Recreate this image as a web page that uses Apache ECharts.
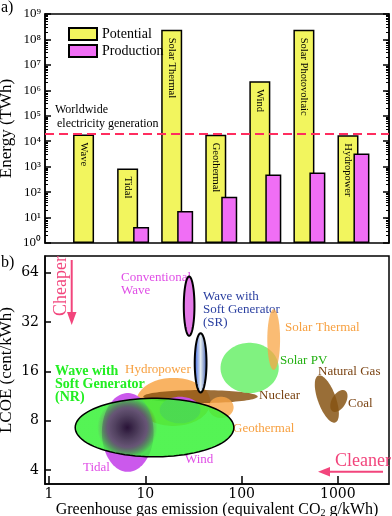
<!DOCTYPE html>
<html>
<head>
<meta charset="utf-8">
<script src="https://cdn.jsdelivr.net/npm/echarts@6/dist/echarts.min.js"></script>
<style>
html, body { margin: 0; padding: 0; background: #fff; }
#main { width: 392px; height: 516px; }
</style>
</head>
<body>
<div id="main"></div>
<script>
// panel a: energy potential vs production (TWh)
var categories = ['Wave', 'Tidal', 'Solar Thermal', 'Geothermal', 'Wind', 'Solar Photovoltaic', 'Hydropower'];
var potential = [18500, 840, 2.4e8, 18000, 2.3e6, 2.4e8, 17000];
var production = [null, 4.3, 18, 66, 490, 590, 3300];
var worldGeneration = 20000;

// panel b: ellipses, emission range (g/kWh), LCOE range (cent/kWh), tilt (deg)
var sources = ['Hydropower', 'Nuclear', 'Geothermal', 'Solar PV', 'Solar Thermal', 'Tidal', 'Wind',
	'Wave NR', 'Conventional Wave', 'Wave SR', 'Natural Gas', 'Coal'];
var emission = [[8.06, 47.5], [9.53, 147], [45.3, 82.6], [60.4, 243], [185, 251], [3.54, 12.2],
	[14.1, 37.4], [1.87, 83.1], [25.1, 32.4], [32.6, 43.2], [619, 953], [866, 1211]];
var lcoe = [[7.43, 14.6], [10.26, 12.3], [8.31, 11.2], [11.8, 23.9], [16.3, 38.3], [3.9, 11.8],
	[7.71, 11.2], [4.82, 10.96], [26.4, 60.6], [11.9, 27.3], [7.64, 15.4], [8.91, 12.5]];
var tilt = [0, 0, 0, 0, 0, 0, 0, 0, 0, 0, -20, 31];

var serif = 'Liberation Serif';
var pink = '#f2457c';

var supDigits = ['⁰', '¹', '²', '³', '⁴', '⁵', '⁶', '⁷', '⁸', '⁹'];
var minorTicks = [];
for (var n = 0; n < 9; n++) {
	for (var k = 2; k < 10; k++) minorTicks.push(k * Math.pow(10, n));
}

var ellipseStyle = {
	'Hydropower': { fill: 'rgba(248,160,60,0.8)' },
	'Nuclear': { fill: 'rgba(140,85,20,0.85)' },
	'Geothermal': { fill: 'rgba(248,165,70,0.8)' },
	'Solar PV': { fill: 'rgba(85,238,85,0.75)' },
	'Solar Thermal': { fill: 'rgba(248,165,70,0.75)' },
	'Tidal': { fill: 'rgba(200,80,235,0.95)' },
	'Wind': { fill: 'rgba(200,80,235,0.95)' },
	'Wave NR': {
		fill: new echarts.graphic.RadialGradient(0.33, 0.5, 0.5, [
			{ offset: 0, color: 'rgba(0,0,10,0.8)' },
			{ offset: 0.65, color: 'rgba(20,80,20,0.55)' },
			{ offset: 1, color: 'rgba(55,242,55,0.85)' }
		]),
		stroke: '#000', lineWidth: 1.5
	},
	'Conventional Wave': { fill: '#e57ae8', stroke: '#000', lineWidth: 2 },
	'Wave SR': {
		fill: new echarts.graphic.LinearGradient(0, 0, 1, 0, [
			{ offset: 0, color: '#1f4fe0' },
			{ offset: 0.5, color: '#e6eef0' },
			{ offset: 1, color: '#2a4aa8' }
		]),
		stroke: '#000', lineWidth: 2
	},
	'Natural Gas': { fill: 'rgba(135,85,20,0.85)' },
	'Coal': { fill: 'rgba(135,85,20,0.85)' }
};

function renderEllipse(params, api) {
	var p0 = api.coord([api.value(0), api.value(2)]);
	var p1 = api.coord([api.value(1), api.value(3)]);
	var cx = (p0[0] + p1[0]) / 2, cy = (p0[1] + p1[1]) / 2;
	var rx = Math.abs(p1[0] - p0[0]) / 2, ry = Math.abs(p1[1] - p0[1]) / 2;
	var t = api.value(4) * Math.PI / 180;
	var pts = [];
	for (var i = 0; i < 90; i++) {
		var a = i / 90 * Math.PI * 2;
		var ex = rx * Math.cos(a), ey = ry * Math.sin(a);
		pts.push([cx + ex * Math.cos(t) - ey * Math.sin(t), cy + ex * Math.sin(t) + ey * Math.cos(t)]);
	}
	var s = ellipseStyle[sources[params.dataIndex]];
	return {
		type: 'polygon',
		shape: { points: pts },
		style: { fill: s.fill, stroke: s.stroke || null, lineWidth: s.lineWidth || 0 }
	};
}

function note(text, x, y, color, size, bold) {
	return {
		type: 'text', x: x, y: y,
		style: {
			text: text, fill: color, align: 'left', verticalAlign: 'middle', lineHeight: 13,
			font: (bold ? 'bold ' : '') + (size || 13) + 'px "' + serif + '"'
		}
	};
}

var blackLine = { onZero: false, lineStyle: { color: '#000', width: 1.5 } };

var option = {
	animation: false,
	textStyle: { fontFamily: serif },
	grid: [
		// panel a frame
		{ left: 45, right: 3, top: 14, bottom: 273, show: true, borderColor: '#000', borderWidth: 1.5, outerBoundsMode: 'none' },
		// panel a bars (one band per category, 44 px apart)
		{ left: 67, right: 16.5, top: 14, bottom: 273, outerBoundsMode: 'none' },
		// panel b
		{ left: 45, right: 3, top: 256, bottom: 32, show: true, borderColor: '#000', borderWidth: 1.5, outerBoundsMode: 'none' }
	],
	legend: {
		data: ['Potential', 'Production'],
		orient: 'vertical', left: 63, top: 22, itemWidth: 28, itemHeight: 12, itemGap: 3,
		icon: 'rect',
		textStyle: { fontFamily: serif, fontSize: 14, color: '#000' }
	},
	xAxis: [{
		gridIndex: 0, type: 'value', min: 0, max: 1, show: false
	}, {
		gridIndex: 1, type: 'category', data: categories, show: false
	}, {
		gridIndex: 2, type: 'log', min: 0.908, max: 3397,
		name: 'Greenhouse gas emission (equivalent CO{sub|2} g/kWh)',
		nameLocation: 'middle', nameGap: 15,
		nameTextStyle: {
			fontFamily: serif, fontSize: 16, color: '#000',
			rich: { sub: { fontFamily: serif, fontSize: 10, color: '#000', padding: [7, 0, 0, 0] } }
		},
		axisLine: blackLine,
		axisTick: { inside: true, length: 8, lineStyle: { color: '#000', width: 1.5 } },
		axisLabel: {
			showMinLabel: false, showMaxLabel: false, margin: 3,
			fontFamily: 'DejaVu Serif', fontSize: 14, color: '#000',
			formatter: function(v) { return String(Math.round(v)); }
		},
		splitLine: { show: false }
	}],
	yAxis: [{
		gridIndex: 0, type: 'log', min: 1, max: 1e9, position: 'left',
		name: 'Energy (TWh)', nameLocation: 'middle', nameGap: 30, nameRotate: 90, nameMoveOverlap: false,
		nameTextStyle: { fontFamily: serif, fontSize: 17, color: '#000' },
		axisLine: blackLine,
		axisTick: { inside: true, length: 6, lineStyle: { color: '#000', width: 1.5 } },
		axisLabel: {
			margin: 4, fontFamily: serif, fontSize: 13, color: '#000',
			formatter: function(v) { return '10' + supDigits[Math.round(Math.log10(v))]; }
		},
		splitLine: { show: false }
	}, {
		gridIndex: 0, type: 'log', min: 1, max: 1e9, position: 'right',
		axisLine: blackLine,
		axisTick: { inside: true, length: 6, lineStyle: { color: '#000', width: 1.5 } },
		axisLabel: { show: false }, splitLine: { show: false }
	}, {
		gridIndex: 0, type: 'log', min: 1, max: 1e9, position: 'left',
		axisLine: { show: false, onZero: false },
		axisTick: { inside: true, length: 3, customValues: minorTicks, lineStyle: { color: '#000', width: 1 } },
		axisLabel: { show: false }, splitLine: { show: false }
	}, {
		gridIndex: 0, type: 'log', min: 1, max: 1e9, position: 'right',
		axisLine: { show: false, onZero: false },
		axisTick: { inside: true, length: 3, customValues: minorTicks, lineStyle: { color: '#000', width: 1 } },
		axisLabel: { show: false }, splitLine: { show: false }
	}, {
		gridIndex: 1, type: 'log', min: 1, max: 1e9, show: false
	}, {
		gridIndex: 2, type: 'log', logBase: 2, min: 3.29, max: 80.8,
		name: 'LCOE (cent/kWh)', nameLocation: 'middle', nameGap: 30, nameRotate: 90, nameMoveOverlap: false,
		nameTextStyle: { fontFamily: serif, fontSize: 17, color: '#000' },
		axisLine: blackLine,
		axisTick: { inside: true, length: 6, lineStyle: { color: '#000', width: 1.5 } },
		axisLabel: {
			showMinLabel: false, showMaxLabel: false, margin: 6,
			fontFamily: 'DejaVu Serif', fontSize: 14, color: '#000',
			formatter: function(v) { return String(Math.round(v)); }
		},
		splitLine: { show: false }
	}],
	series: [{
		name: 'Potential', type: 'bar', xAxisIndex: 1, yAxisIndex: 4,
		barWidth: 21, barGap: '-24%',
		data: potential,
		itemStyle: { color: '#f2f55e', borderColor: '#000', borderWidth: 1.5 },
		label: {
			show: true, position: 'insideTop', rotate: -90, align: 'left', verticalAlign: 'middle',
			distance: 8, fontFamily: serif, fontSize: 10.5, color: '#000',
			formatter: function(p) { return categories[p.dataIndex]; }
		}
	}, {
		name: 'Production', type: 'bar', xAxisIndex: 1, yAxisIndex: 4,
		barWidth: 16,
		data: production,
		itemStyle: { color: '#f06ef5', borderColor: '#000', borderWidth: 1.5 }
	}, {
		// worldwide generation level, drawn across the whole frame
		type: 'line', xAxisIndex: 0, yAxisIndex: 0, data: [],
		markLine: {
			silent: true, symbol: 'none', label: { show: false },
			lineStyle: { color: '#ff2d5f', type: [9, 5], width: 2 },
			data: [{ yAxis: worldGeneration }]
		}
	}, {
		type: 'custom', xAxisIndex: 2, yAxisIndex: 5,
		renderItem: renderEllipse,
		encode: { x: [0, 1], y: [2, 3] },
		data: sources.map(function(s, i) {
			return [emission[i][0], emission[i][1], lcoe[i][0], lcoe[i][1], tilt[i]];
		})
	}],
	graphic: [
		note('a)', 1, 8, '#000', 16),
		note('b)', 1, 263, '#000', 16),
		note('Worldwide', 55, 110, '#000', 12),
		note('electricity generation', 57, 124, '#000', 12),
		note('Conventional\nWave', 121, 284, '#e04ee6', 13),
		note('Wave with\nSoft Generator\n(SR)', 203, 310, '#2a3fa0', 13),
		note('Solar Thermal', 285, 328, '#f7a040', 13),
		note('Solar PV', 280, 361, '#22b011', 13),
		note('Hydropower', 125, 370, '#f7a040', 13),
		note('Natural Gas', 318, 372, '#7a4312', 13),
		note('Nuclear', 259, 396, '#7a4312', 13),
		note('Coal', 348, 404, '#7a4312', 13),
		note('Geothermal', 233, 429, '#f7a040', 13),
		note('Wave with\nSoft Generator\n(NR)', 55, 384, '#22ee22', 14, true),
		note('Tidal', 83, 468, '#e04ee6', 13),
		note('Wind', 185, 460, '#e04ee6', 13),
		{
			type: 'text', x: 61, y: 286, rotation: Math.PI / 2,
			style: { text: 'Cheaper', fill: pink, align: 'center', verticalAlign: 'middle', font: '18px "' + serif + '"' }
		},
		{ type: 'line', shape: { x1: 71.7, y1: 260, x2: 71.7, y2: 316 }, style: { stroke: pink, lineWidth: 2 } },
		{ type: 'polygon', shape: { points: [[67, 312], [76.5, 312], [71.7, 325]] }, style: { fill: pink } },
		note('Cleaner', 335, 461, pink, 18),
		{ type: 'line', shape: { x1: 383, y1: 471.7, x2: 326, y2: 471.7 }, style: { stroke: pink, lineWidth: 2 } },
		{ type: 'polygon', shape: { points: [[330, 467], [330, 476.5], [318, 471.7]] }, style: { fill: pink } }
	]
};

var my = echarts.init(document.getElementById('main'));
my.setOption(option);
</script>
</body>
</html>
